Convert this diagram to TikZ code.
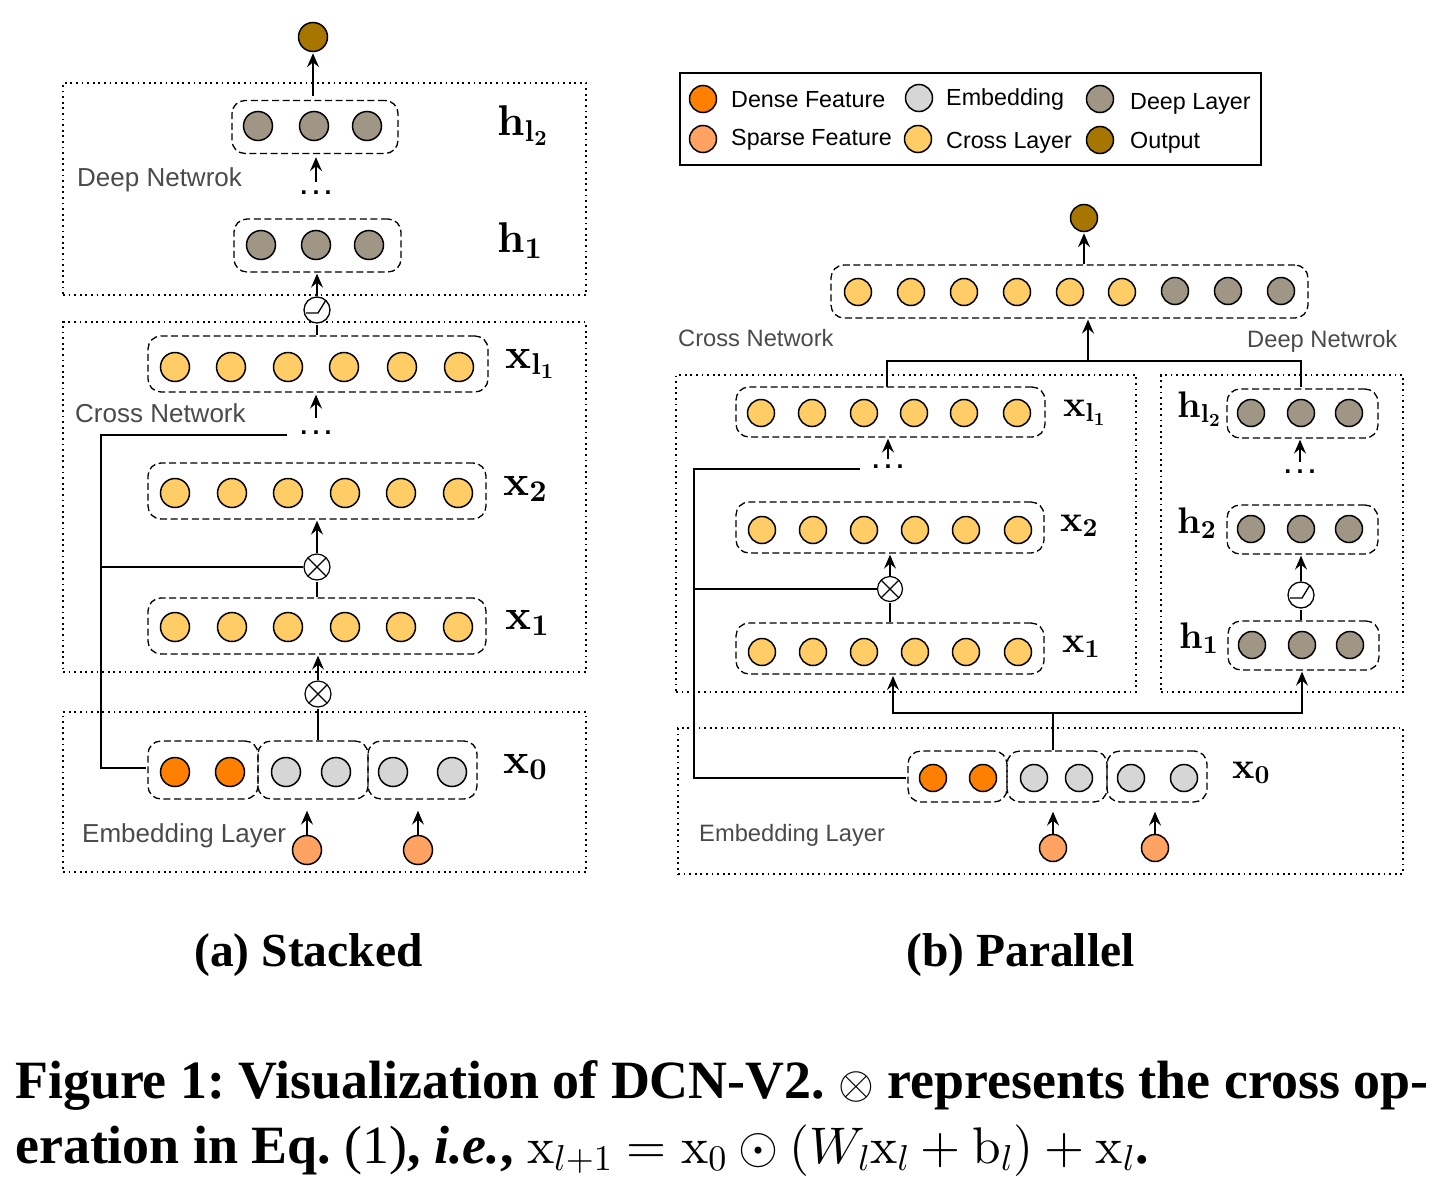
\documentclass[tikz,border=0pt]{standalone}
\usepackage[no-math]{fontspec}
\usepackage{amsmath}
\usetikzlibrary{arrows.meta,positioning}
\newfontfamily\sansfont{Liberation Sans}
\newfontfamily\capfont{Liberation Serif}
% scalable math fonts
\DeclareFontShape{OT1}{cmr}{m}{n}{<->cmr10}{}
\DeclareFontShape{OT1}{cmr}{bx}{n}{<->cmbx10}{}
\DeclareFontShape{OML}{cmm}{m}{it}{<->cmmi10}{}
\DeclareFontShape{OMS}{cmsy}{m}{n}{<->cmsy10}{}
\definecolor{densecol}{HTML}{FF7F00}
\definecolor{sparsecol}{HTML}{FFA262}
\definecolor{embedcol}{HTML}{D6D6D6}
\definecolor{crosscol}{HTML}{FFCC66}
\definecolor{deepcol}{HTML}{A09686}
\definecolor{outcol}{HTML}{A67600}
\definecolor{tagcol}{HTML}{4A4A4A}
\newcommand{\threedots}{.\kern5.2pt.\kern5.2pt.}
\tikzset{
  bubble/.style={circle,draw,line width=1.5pt,inner sep=0pt,minimum size=29pt},
  dense/.style={bubble,fill=densecol},
  sparse/.style={bubble,fill=sparsecol},
  embed/.style={bubble,fill=embedcol},
  crosslayer/.style={bubble,fill=crosscol},
  deep/.style={bubble,fill=deepcol},
  outnode/.style={bubble,fill=outcol},
  layerbox/.style={rectangle,draw,rounded corners=13pt,line width=1.3pt,dash pattern=on 7pt off 3.6pt,inner sep=0pt},
  regionbox/.style={rectangle,draw,line width=1.3pt,dash pattern=on 1.8pt off 3.8pt,inner sep=0pt},
  crossop/.style={circle,draw,fill=white,line width=1.2pt,inner sep=0pt,minimum size=26pt,
    path picture={\draw[line width=1.2pt] (path picture bounding box.north west) -- (path picture bounding box.south east)
      (path picture bounding box.north east) -- (path picture bounding box.south west);}},
  relu/.style={circle,draw,fill=white,line width=1.3pt,inner sep=0pt,minimum size=26pt,
    path picture={\draw[line width=1.3pt] ([shift={(-11pt,-3pt)}]path picture bounding box.center) -- ([shift={(1pt,-3pt)}]path picture bounding box.center) -- ([shift={(9pt,10pt)}]path picture bounding box.center);}},
  wire/.style={-,line width=1.5pt},
  arrowline/.style={->,line width=1.5pt},
  tag/.style={inner sep=0pt,anchor=west,text=tagcol,font=\sansfont\fontsize{26}{26}\selectfont},
  tagb/.style={inner sep=0pt,anchor=west,text=tagcol,font=\sansfont\fontsize{23.7}{23.7}\selectfont},
  legendtag/.style={inner sep=0pt,anchor=west,font=\sansfont\fontsize{23.3}{23.3}\selectfont},
  vecname/.style={inner sep=0pt,anchor=base west,font=\fontsize{43}{43}\selectfont},
  vecnameb/.style={inner sep=0pt,anchor=base west,font=\fontsize{37}{37}\selectfont},
  ellipsis/.style={inner sep=0pt,font=\sansfont\bfseries\fontsize{25}{25}\selectfont},
  subcap/.style={inner sep=0pt,anchor=base,font=\capfont\bfseries\fontsize{47.5}{47.5}\selectfont},
  figcap/.style={inner sep=0pt,anchor=base west,font=\capfont\bfseries\fontsize{53.9}{53.9}\selectfont\frenchspacing}
}
\begin{document}
\begin{tikzpicture}[x=1pt,y=-1pt,>={Stealth[length=14pt,width=12pt,inset=5pt]},shorten >=1pt]
  \useasboundingbox (0,0) rectangle (1440,1191);
  % stacked
  \node[regionbox,minimum width=523pt,minimum height=212pt] (adeep) at (324.5,189) {};
  \node[regionbox,minimum width=523pt,minimum height=350pt] (across) at (324.5,497) {};
  \node[regionbox,minimum width=523pt,minimum height=160pt] (aembed) at (324.5,792) {};
  \node[tag] (adeeptag) at (77,180) {Deep Netwrok};
  \node[tag] (acrosstag) at (75,413) {Cross Network};
  \node[tag] (aembedtag) at (82,835.5) {Embedding Layer};

  \node[outnode] (aout) at (313,37) {};
  \node[layerbox,minimum width=166pt,minimum height=53pt] (ahl) at (315,127) {};
  \node[deep] (ahl1) at (258,126) {};
  \node[deep] (ahl2) at (314,126) {};
  \node[deep] (ahl3) at (367,126) {};
  \node[ellipsis] (adotsh) at (316,193) {\threedots};
  \node[layerbox,minimum width=167pt,minimum height=53pt] (ahf) at (317.5,245.5) {};
  \node[deep] (ahf1) at (261,245) {};
  \node[deep] (ahf2) at (316,245) {};
  \node[deep] (ahf3) at (369,245) {};
  \node[relu] (arelu) at (317,310) {};

  \node[layerbox,minimum width=340pt,minimum height=56pt] (axl) at (318,364) {};
  \node[crosslayer] (axl1) at (175,367) {};
  \node[crosslayer] (axl2) at (231,367) {};
  \node[crosslayer] (axl3) at (288,367) {};
  \node[crosslayer] (axl4) at (344,367) {};
  \node[crosslayer] (axl5) at (402,367) {};
  \node[crosslayer] (axl6) at (459,367) {};
  \node[ellipsis] (adotsx) at (316,433) {\threedots};
  \node[layerbox,minimum width=338pt,minimum height=56pt] (axs) at (317,491) {};
  \node[crosslayer] (axs1) at (175,493) {};
  \node[crosslayer] (axs2) at (232,493) {};
  \node[crosslayer] (axs3) at (288,493) {};
  \node[crosslayer] (axs4) at (345,493) {};
  \node[crosslayer] (axs5) at (401,493) {};
  \node[crosslayer] (axs6) at (458,493) {};
  \node[crossop] (aopone) at (317,567) {};
  \node[layerbox,minimum width=338pt,minimum height=56pt] (axf) at (317,626) {};
  \node[crosslayer] (axf1) at (175,627) {};
  \node[crosslayer] (axf2) at (232,627) {};
  \node[crosslayer] (axf3) at (288,627) {};
  \node[crosslayer] (axf4) at (345,627) {};
  \node[crosslayer] (axf5) at (401,627) {};
  \node[crosslayer] (axf6) at (458,627) {};
  \node[crossop] (aoptwo) at (318,694) {};

  \node[layerbox,minimum width=110pt,minimum height=58pt] (aea) at (203,770) {};
  \node[layerbox,minimum width=110pt,minimum height=58pt] (aeb) at (313,770) {};
  \node[layerbox,minimum width=109pt,minimum height=58pt] (aec) at (422.5,770) {};
  \node[dense] (ae1) at (175,772) {};
  \node[dense] (ae2) at (230,772) {};
  \node[embed] (ae3) at (286,772) {};
  \node[embed] (ae4) at (336,772) {};
  \node[embed] (ae5) at (393,772) {};
  \node[embed] (ae6) at (452,772) {};
  \node[sparse] (as1) at (307,850) {};
  \node[sparse] (as2) at (418,850) {};

  \node[vecname] (ahlname) at (497,135) {$\mathbf{h_{l_2}}$};
  \node[vecname] (ahfname) at (497,252) {$\mathbf{h_1}$};
  \node[vecname] (axlname) at (505,368) {$\mathbf{x_{l_1}}$};
  \node[vecname] (axsname) at (503,495) {$\mathbf{x_2}$};
  \node[vecname] (axfname) at (505,629) {$\mathbf{x_1}$};
  \node[vecname] (aename) at (503,773) {$\mathbf{x_0}$};

  \coordinate (arailtop) at (101,435);
  \coordinate (arailend) at (287,435);
  \draw[wire] (arailend) -- (arailtop) |- ([yshift=2pt]aea.west);
  \path (aopone) edge [wire] (aopone -| arailtop)
        (aopone |- axf.north) edge [wire] (aopone)
        (aoptwo |- aeb.north) edge [wire] (aoptwo)
        (arelu |- axl.north) edge [wire] (arelu);
  \path (aout |- ahl.north) edge [arrowline,shorten <=4pt] (aout)
        (arelu) edge [arrowline] (arelu |- ahf.south)
        (aopone) edge [arrowline] (aopone |- axs.south)
        (aoptwo) edge [arrowline] (aoptwo |- axf.south)
        (as1) edge [arrowline,shorten >=11pt] (as1 |- aeb.south)
        (as2) edge [arrowline,shorten >=11pt] (as2 |- aec.south)
        (adotsh.north) edge [arrowline,shorten <=9pt,shorten >=3pt] (adotsh.north |- ahl.south)
        (adotsx.north) edge [arrowline,shorten <=13pt,shorten >=2pt] (adotsx.north |- axl.south);

  \begin{scope}[bubble/.append style={minimum size=27pt},crossop/.append style={minimum size=25pt},relu/.append style={minimum size=26pt}]
  % legend
  \node[rectangle,draw,line width=1.5pt,inner sep=0pt,minimum width=581pt,minimum height=92pt] (legendbox) at (970.5,119) {};
  \node[dense] (ldense) at (703,99) {};
  \node[sparse] (lsparse) at (703,139) {};
  \node[embed] (lembed) at (919,98) {};
  \node[crosslayer] (lcross) at (918,139) {};
  \node[deep] (ldeep) at (1100,99) {};
  \node[outnode] (lout) at (1100,140) {};
  \node[legendtag] (ldensetag) at (731,100) {Dense Feature};
  \node[legendtag] (lsparsetag) at (731,139.5) {Sparse Feature};
  \node[legendtag] (lembedtag) at (946,99) {Embedding};
  \node[legendtag] (lcrosstag) at (946,142.5) {Cross Layer};
  \node[legendtag] (ldeeptag) at (1130,103.5) {Deep Layer};
  \node[legendtag] (louttag) at (1130,142.5) {Output};

  % parallel
  \node[regionbox,minimum width=460pt,minimum height=317pt] (bcross) at (906,533.5) {};
  \node[regionbox,minimum width=242pt,minimum height=317pt] (bdeep) at (1282,533.5) {};
  \node[regionbox,minimum width=725pt,minimum height=146pt] (bembed) at (1040.5,801) {};
  \node[tagb] (bcrosstag) at (678,338) {Cross Network};
  \node[tagb] (bdeeptag) at (1247,341) {Deep Netwrok};
  \node[tagb] (bembedtag) at (699,835) {Embedding Layer};

  \node[outnode] (bout) at (1084,218) {};
  \node[layerbox,minimum width=477pt,minimum height=53pt] (btop) at (1069.5,291.5) {};
  \node[crosslayer] (bt1) at (858,292) {};
  \node[crosslayer] (bt2) at (911,292) {};
  \node[crosslayer] (bt3) at (964,292) {};
  \node[crosslayer] (bt4) at (1017,292) {};
  \node[crosslayer] (bt5) at (1070,292) {};
  \node[crosslayer] (bt6) at (1122,292) {};
  \node[deep] (bt7) at (1175,291) {};
  \node[deep] (bt8) at (1228,291) {};
  \node[deep] (bt9) at (1281,291) {};

  \node[layerbox,minimum width=309pt,minimum height=50pt] (bxl) at (890.5,412) {};
  \node[crosslayer] (bxl1) at (761,413) {};
  \node[crosslayer] (bxl2) at (812,413) {};
  \node[crosslayer] (bxl3) at (864,413) {};
  \node[crosslayer] (bxl4) at (914,413) {};
  \node[crosslayer] (bxl5) at (964,413) {};
  \node[crosslayer] (bxl6) at (1017,413) {};
  \node[ellipsis] (bdotsx) at (888,467) {\threedots};
  \node[layerbox,minimum width=308pt,minimum height=51pt] (bxs) at (890,527.5) {};
  \node[crosslayer] (bxs1) at (762,530) {};
  \node[crosslayer] (bxs2) at (813,530) {};
  \node[crosslayer] (bxs3) at (864,530) {};
  \node[crosslayer] (bxs4) at (915,530) {};
  \node[crosslayer] (bxs5) at (966,530) {};
  \node[crosslayer] (bxs6) at (1018,530) {};
  \node[crossop] (bop) at (890,589) {};
  \node[layerbox,minimum width=308pt,minimum height=51pt] (bxf) at (890,648.5) {};
  \node[crosslayer] (bxf1) at (762,652) {};
  \node[crosslayer] (bxf2) at (813,652) {};
  \node[crosslayer] (bxf3) at (864,652) {};
  \node[crosslayer] (bxf4) at (915,652) {};
  \node[crosslayer] (bxf5) at (966,652) {};
  \node[crosslayer] (bxf6) at (1018,652) {};

  \node[layerbox,minimum width=151pt,minimum height=49pt] (bhl) at (1302.5,413.5) {};
  \node[deep] (bhl1) at (1251,413) {};
  \node[deep] (bhl2) at (1301,413) {};
  \node[deep] (bhl3) at (1349,413) {};
  \node[ellipsis] (bdotsh) at (1300,472) {\threedots};
  \node[layerbox,minimum width=151pt,minimum height=49pt] (bhs) at (1302.5,529.5) {};
  \node[deep] (bhs1) at (1251,529) {};
  \node[deep] (bhs2) at (1301,529) {};
  \node[deep] (bhs3) at (1349,529) {};
  \node[relu] (brelu) at (1301,595) {};
  \node[layerbox,minimum width=151pt,minimum height=49pt] (bhf) at (1303.5,645.5) {};
  \node[deep] (bhf1) at (1252,645) {};
  \node[deep] (bhf2) at (1302,645) {};
  \node[deep] (bhf3) at (1350,645) {};

  \node[layerbox,minimum width=99pt,minimum height=51pt] (bea) at (957.5,776.5) {};
  \node[layerbox,minimum width=100pt,minimum height=51pt] (beb) at (1057,776.5) {};
  \node[layerbox,minimum width=100pt,minimum height=51pt] (bec) at (1157,776.5) {};
  \node[dense] (be1) at (933,778) {};
  \node[dense] (be2) at (983,778) {};
  \node[embed] (be3) at (1034,778) {};
  \node[embed] (be4) at (1079,778) {};
  \node[embed] (be5) at (1131,778) {};
  \node[embed] (be6) at (1184,778) {};
  \node[sparse] (bs1) at (1053,848) {};
  \node[sparse] (bs2) at (1155,848) {};

  \node[vecnameb] (bhlname) at (1177,417) {$\mathbf{h_{l_2}}$};
  \node[vecnameb] (bhsname) at (1177,533) {$\mathbf{h_2}$};
  \node[vecnameb] (bhfname) at (1179,648) {$\mathbf{h_1}$};
  \node[vecnameb] (bxlname) at (1063,416) {$\mathbf{x_{l_1}}$};
  \node[vecnameb] (bxsname) at (1060,531) {$\mathbf{x_2}$};
  \node[vecnameb] (bxfname) at (1062,652) {$\mathbf{x_1}$};
  \node[vecnameb] (bename) at (1232,778) {$\mathbf{x_0}$};

  \coordinate (brailtop) at (694,469);
  \coordinate (brailend) at (860,469);
  \coordinate (bmerge) at (1088,361);
  \coordinate (bsplit) at (1053,713);
  \draw[wire] (brailend) -- (brailtop) |- ([yshift=-1.5pt]bea.west);
  \draw[wire] (887,387) |- (bmerge) -| (bhl2.north |- bhl.north);
  \draw[arrowline] (beb.north -| bsplit) -- (bsplit) -| (893,675);
  \draw[arrowline] (bsplit) -| (bhf.south -| bhf2);
  \path (bop) edge [wire] (bop -| brailtop)
        (bop |- bxf.north) edge [wire] (bop)
        (brelu |- bhf.north) edge [wire] (brelu);
  \path (bout |- btop.north) edge [arrowline] (bout)
        (bmerge) edge [arrowline] (bmerge |- btop.south)
        (bop) edge [arrowline] (bop |- bxs.south)
        (brelu) edge [arrowline] (brelu |- bhs.south)
        (bs1) edge [arrowline,shorten >=9pt] (bs1 |- beb.south)
        (bs2) edge [arrowline,shorten >=9pt] (bs2 |- bec.south)
        (bdotsx.north) edge [arrowline,shorten <=6pt,shorten >=1pt] (bdotsx.north |- bxl.south)
        (bdotsh.north) edge [arrowline,shorten <=8pt,shorten >=1pt] (bdotsh.north |- bhl.south);
  \end{scope}

  % captions
  \node[subcap] (acap) at (308.5,966) {(a) Stacked};
  \node[subcap] (bcap) at (1020.5,966) {(b) Parallel};
  \node[figcap] (capone) at (15,1098) {Figure 1: Visualization of DCN-V2. {\fontsize{46}{46}\selectfont$\otimes$} represents the cross op-};
  \node[figcap] (captwo) at (15,1163) {eration in Eq. {\mdseries(1)}, \textit{i.e.}, {\mdseries\fontsize{51.5}{51.5}\selectfont$\mathrm{x}_{l+1}=\mathrm{x}_0\odot(W_l\mathrm{x}_l+\mathrm{b}_l)+\mathrm{x}_l$}.};
\end{tikzpicture}
\end{document}
